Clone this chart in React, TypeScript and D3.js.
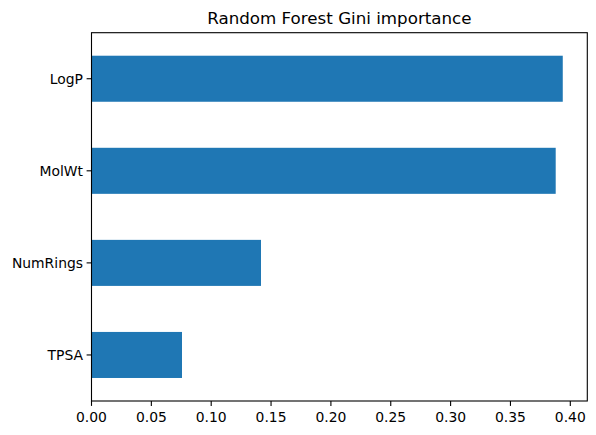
import React from "react";
import * as d3 from "d3";

const features = ["LogP", "MolWt", "NumRings", "TPSA"];
const importances = [0.3937, 0.3878, 0.1416, 0.0756];
const xTicks = [0, 0.05, 0.1, 0.15, 0.2, 0.25, 0.3, 0.35, 0.4];

export default function App() {
  const W = 596, H = 435;
  const left = 91.5, right = 587.3, top = 32.7, bottom = 401;
  const x = d3.scaleLinear().domain([0, 0.4142]).range([left, right]);
  const y = d3.scaleLinear().domain([-0.5, 3.5]).range([top, bottom]);
  const font = "DejaVu Sans, sans-serif";
  return (
    <svg width={W} height={H} style={{ position: "absolute", left: 0, top: 0, background: "#fff" }}>
      <text x={(left + right) / 2} y={24} textAnchor="middle" fontFamily={font} fontSize={16.7}>
        Random Forest Gini importance
      </text>
      {features.map((f, i) => (
        <rect key={f} x={x(0)} y={y(i - 0.25)} width={x(importances[i]) - x(0)} height={y(i + 0.25) - y(i - 0.25)} fill="#1f77b4" />
      ))}
      <rect x={left} y={top} width={right - left} height={bottom - top} fill="none" stroke="#000" strokeWidth={1.1} />
      {xTicks.map((t) => (
        <g key={t}>
          <line x1={x(t)} x2={x(t)} y1={bottom} y2={bottom + 4.9} stroke="#000" strokeWidth={1.1} />
          <text x={x(t)} y={bottom + 20.5} textAnchor="middle" fontFamily={font} fontSize={13.9}>
            {t.toFixed(2)}
          </text>
        </g>
      ))}
      {features.map((f, i) => (
        <g key={f}>
          <line x1={left - 4.9} x2={left} y1={y(i)} y2={y(i)} stroke="#000" strokeWidth={1.1} />
          <text x={left - 8.5} y={y(i)} dy="0.35em" textAnchor="end" fontFamily={font} fontSize={13.9}>
            {f}
          </text>
        </g>
      ))}
    </svg>
  );
}
